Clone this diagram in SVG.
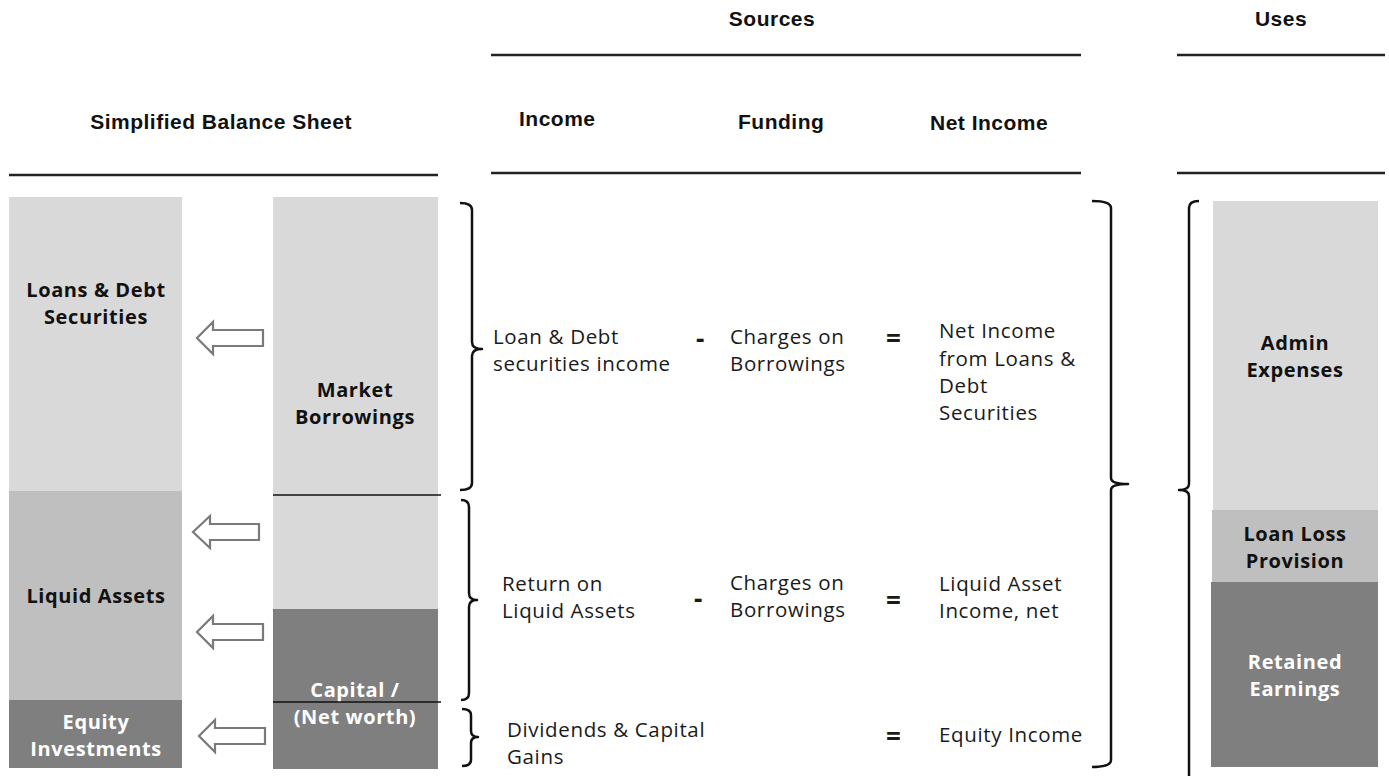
<svg xmlns="http://www.w3.org/2000/svg" width="1389" height="776" viewBox="0 0 1389 776">
<style>
.hdr{font-family:"Liberation Sans",Arial,sans-serif;font-weight:700;font-size:21px;letter-spacing:0.5px;fill:#111;}
.lbl{font-family:"Open Sans","Noto Sans",sans-serif;font-weight:700;font-size:20px;letter-spacing:0.6px;fill:#111;text-anchor:middle;}
.lblw{font-family:"Open Sans","Noto Sans",sans-serif;font-weight:700;font-size:20px;letter-spacing:0.6px;fill:#fff;text-anchor:middle;}
.txt{font-family:"Open Sans","Noto Sans",sans-serif;font-size:20.5px;letter-spacing:0.65px;fill:#1a1a1a;}
.op{font-family:"Open Sans","Noto Sans",sans-serif;font-size:26px;font-weight:700;fill:#1a1a1a;}
.rule{stroke:#222;stroke-width:2.5;fill:none;}
.thin{stroke:#111;stroke-width:1.5;fill:none;}
.brace{stroke:#111;stroke-width:2.5;fill:none;stroke-linejoin:round;}
.arrow{fill:#fff;stroke:#7a7a7a;stroke-width:2.2;}
.c1{fill:#d9d9d9;}
.c2{fill:#bfbfbf;}
.c3{fill:#7f7f7f;}
</style>

<g id="headers">
<text class="hdr" x="772" y="26" text-anchor="middle">Sources</text>
<text class="hdr" x="1281" y="26" text-anchor="middle">Uses</text>
<text class="hdr" x="221" y="129" text-anchor="middle">Simplified Balance Sheet</text>
<text class="hdr" x="519" y="126">Income</text>
<text class="hdr" x="738" y="129">Funding</text>
<text class="hdr" x="930" y="130">Net Income</text>
<line class="rule" x1="491" y1="55" x2="1081" y2="55"/>
<line class="rule" x1="1177" y1="55" x2="1385" y2="55"/>
<line class="rule" x1="9" y1="175" x2="438" y2="175"/>
<line class="rule" x1="491" y1="173" x2="1081" y2="173"/>
<line class="rule" x1="1177" y1="173" x2="1385" y2="173"/>
</g>

<g id="loans-debt">
<rect class="c1" x="9" y="197" width="173" height="294"/>
<text class="lbl" x="96" y="297">Loans &amp; Debt</text>
<text class="lbl" x="96" y="324">Securities</text>
</g>
<g id="liquid-assets">
<rect class="c2" x="9" y="491" width="173" height="209"/>
<text class="lbl" x="96" y="603">Liquid Assets</text>
</g>
<g id="equity-investments">
<rect class="c3" x="9" y="700" width="173" height="68"/>
<text class="lblw" x="96" y="729">Equity</text>
<text class="lblw" x="96" y="756">Investments</text>
</g>

<g id="market-borrowings">
<rect class="c1" x="273" y="197" width="165" height="412"/>
<text class="lbl" x="355" y="397">Market</text>
<text class="lbl" x="355" y="424">Borrowings</text>
</g>
<g id="capital">
<rect class="c3" x="273" y="609" width="165" height="160"/>
<text class="lblw" x="355" y="697">Capital /</text>
<text class="lblw" x="355" y="724">(Net worth)</text>
</g>

<g id="admin-expenses">
<rect class="c1" x="1213" y="201" width="165" height="309"/>
<text class="lbl" x="1295" y="350">Admin</text>
<text class="lbl" x="1295" y="377">Expenses</text>
</g>
<g id="loan-loss-provision">
<rect class="c2" x="1212" y="510" width="166" height="72"/>
<text class="lbl" x="1295" y="541">Loan Loss</text>
<text class="lbl" x="1295" y="568">Provision</text>
</g>
<g id="retained-earnings">
<rect class="c3" x="1211" y="582" width="167" height="185"/>
<text class="lblw" x="1295" y="669">Retained</text>
<text class="lblw" x="1295" y="696">Earnings</text>
</g>

<g id="row-loans">
<text class="txt" x="493" y="344">Loan &amp; Debt</text>
<text class="txt" x="493" y="371">securities income</text>
<text class="op" x="696" y="348">-</text>
<text class="txt" x="730" y="344">Charges on</text>
<text class="txt" x="730" y="371">Borrowings</text>
<text class="op" x="886" y="348">=</text>
<text class="txt" x="939" y="338">Net Income</text>
<text class="txt" x="939" y="366">from Loans &amp;</text>
<text class="txt" x="939" y="393">Debt</text>
<text class="txt" x="939" y="420">Securities</text>
</g>
<g id="row-liquid">
<text class="txt" x="502" y="591">Return on</text>
<text class="txt" x="502" y="618">Liquid Assets</text>
<text class="op" x="694" y="608">-</text>
<text class="txt" x="730" y="590">Charges on</text>
<text class="txt" x="730" y="617">Borrowings</text>
<text class="op" x="886" y="610">=</text>
<text class="txt" x="939" y="591">Liquid Asset</text>
<text class="txt" x="939" y="618">Income, net</text>
</g>
<g id="row-equity">
<text class="txt" x="507" y="737">Dividends &amp; Capital</text>
<text class="txt" x="507" y="764">Gains</text>
<text class="op" x="886" y="746">=</text>
<text class="txt" x="939" y="742">Equity Income</text>
</g>

<g id="connectors">
<line class="thin" x1="273" y1="495" x2="441" y2="495"/>
<line class="thin" x1="273" y1="702" x2="441" y2="702"/>
<path class="arrow" d="M197,338 L213,322 L213,330 L263,330 L263,346 L213,346 L213,354 Z"/>
<path class="arrow" d="M193,532 L210,516 L210,524 L259,524 L259,540 L210,540 L210,548 Z"/>
<path class="arrow" d="M197,632 L213,616 L213,624 L263,624 L263,640 L213,640 L213,648 Z"/>
<path class="arrow" d="M199,736 L215,720 L215,728 L265,728 L265,744 L215,744 L215,752 Z"/>
<path class="brace" d="M460,203 Q472,203 472,210 L472,342 Q472,349 482,349 Q472,349 472,356 L472,483 Q472,490 460,490"/>
<path class="brace" d="M461,500 Q469,500 469,507 L469,593 Q469,600 477,600 Q469,600 469,607 L469,693 Q469,700 461,700"/>
<path class="brace" d="M462,709 Q471,709 471,715 L471,731 Q471,737 478,737 Q471,737 471,743 L471,760 Q471,766 462,766"/>
<path class="brace" d="M1092,201 Q1111,201 1111,208 L1111,478 Q1111,484 1128,484 Q1111,484 1111,490 L1111,760 Q1111,767 1092,767"/>
<path class="brace" d="M1199,201 Q1189,201 1189,208 L1189,484 Q1189,490 1179,490 Q1189,490 1189,496 L1189,780"/>
</g>
</svg>
